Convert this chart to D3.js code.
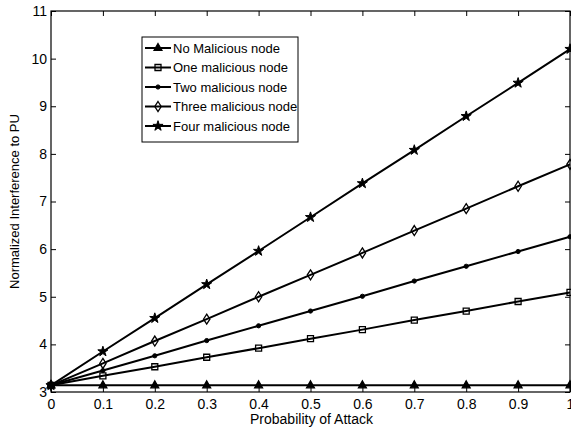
<!DOCTYPE html>
<html><head><meta charset="utf-8">
<script src="https://cdn.jsdelivr.net/npm/d3@7"></script>
<style>body{margin:0;background:#fff}svg{display:block}text{font-family:"Liberation Sans",Arial,sans-serif;fill:#000}</style>
</head><body><svg id="c" width="571" height="429"></svg>
<script>
const xValues = [0,0.1,0.2,0.3,0.4,0.5,0.6,0.7,0.8,0.9,1];
const noMalicious = [3.14,3.14,3.14,3.14,3.14,3.14,3.14,3.14,3.14,3.14,3.14];
const oneMalicious = [3.14,3.34,3.53,3.73,3.92,4.12,4.31,4.51,4.70,4.90,5.09];
const twoMalicious = [3.14,3.45,3.76,4.08,4.39,4.70,5.01,5.33,5.64,5.95,6.26];
const threeMalicious = [3.14,3.60,4.07,4.53,5.00,5.46,5.92,6.39,6.85,7.32,7.78];
const fourMalicious = [3.14,3.85,4.55,5.26,5.96,6.67,7.38,8.08,8.79,9.49,10.20];
const seriesNames = ["No Malicious node","One malicious node","Two malicious node","Three malicious node","Four malicious node"];
const seriesMarkers = ["triangle","square","circle","diamond","star"];
const xTicks = [0,0.1,0.2,0.3,0.4,0.5,0.6,0.7,0.8,0.9,1];
const yTicks = [3,4,5,6,7,8,9,10,11];
const xLabel = "Probability of Attack";
const yLabel = "Normalized Interference to PU";

const series = [noMalicious,oneMalicious,twoMalicious,threeMalicious,fourMalicious].map((v,i)=>({name:seriesNames[i],marker:seriesMarkers[i],values:v}));

const svg = d3.select("#c");
const L=51, R=570, T=11, B=392;
const x = d3.scaleLinear().domain([0,1]).range([L,R]);
const y = d3.scaleLinear().domain([3,11]).range([B,T]);

function markerPath(type){
  switch(type){
    case "triangle": return "M0,-4.5L4,2.5L-4,2.5Z";
    case "square": return "M-3,-3H3V3H-3Z";
    case "circle": return d3.symbol(d3.symbolCircle, 14)();
    case "diamond": return "M0,-5L3.2,0L0,5L-3.2,0Z";
    case "star": return d3.symbol(d3.symbolStar, 32)();
  }
}
function markerStyle(sel,type){
  if(type==="circle"||type==="star") sel.attr("fill","#000").attr("stroke","#000").attr("stroke-width",1);
  else if(type==="triangle") sel.attr("fill","#000").attr("stroke","#000").attr("stroke-width",1.2);
  else sel.attr("fill","none").attr("stroke","#000").attr("stroke-width",1.3);
}

svg.append("rect").attr("x",L).attr("y",T).attr("width",R-L).attr("height",B-T).attr("fill","#fff");

const gx = svg.append("g").attr("transform",`translate(0,${B})`).call(d3.axisBottom(x).tickValues(xTicks).tickFormat(d3.format("")).tickSizeInner(-5).tickSizeOuter(0));
const gxt = svg.append("g").attr("transform",`translate(0,${T})`).call(d3.axisTop(x).tickValues(xTicks).tickFormat("").tickSizeInner(-5).tickSizeOuter(0));
const gy = svg.append("g").attr("transform",`translate(${L},0)`).call(d3.axisLeft(y).tickValues(yTicks).tickFormat(d3.format("d")).tickSizeInner(-5).tickSizeOuter(0));
const gyr = svg.append("g").attr("transform",`translate(${R},0)`).call(d3.axisRight(y).tickValues(yTicks).tickFormat("").tickSizeInner(-5).tickSizeOuter(0));
[gx,gxt,gy,gyr].forEach(g=>{g.select(".domain").remove();g.selectAll(".tick line").attr("stroke","#000");});
gx.selectAll("text").attr("font-size",14).attr("dy","0.71em").attr("y",7).attr("font-family","Liberation Sans, Arial, sans-serif");
gy.selectAll("text").attr("font-size",14).attr("x",-4).attr("font-family","Liberation Sans, Arial, sans-serif");
svg.append("rect").attr("x",L).attr("y",T).attr("width",R-L).attr("height",B-T).attr("fill","none").attr("stroke","#000").attr("stroke-width",1.2);

const line = d3.line().x((d,i)=>x(xValues[i])).y(d=>y(d));
const gs = svg.append("g");
series.forEach(s=>{
  gs.append("path").attr("d",line(s.values)).attr("fill","none").attr("stroke","#000").attr("stroke-width",2);
  gs.selectAll(null).data(s.values).enter().append("path")
    .attr("transform",(d,i)=>`translate(${x(xValues[i])},${y(d)})`)
    .attr("d",markerPath(s.marker)).call(markerStyle,s.marker);
});

svg.append("text").attr("x",(L+R)/2+1).attr("y",424).attr("text-anchor","middle").attr("font-size",14).text(xLabel);
svg.append("text").attr("transform",`translate(19,${(T+B)/2}) rotate(-90)`).attr("text-anchor","middle").attr("font-size",13).text(yLabel);

const lg = svg.append("g").attr("transform","translate(142,37)");
lg.append("rect").attr("width",156).attr("height",105).attr("fill","#fff").attr("stroke","#000").attr("stroke-width",1);
series.forEach((s,i)=>{
  const ly = 11+i*19.5;
  lg.append("line").attr("x1",3).attr("x2",29).attr("y1",ly).attr("y2",ly).attr("stroke","#000").attr("stroke-width",2);
  lg.append("path").attr("transform",`translate(16,${ly})`).attr("d",markerPath(s.marker)).call(markerStyle,s.marker);
  lg.append("text").attr("x",31).attr("y",ly).attr("dy","0.35em").attr("font-size",13).text(s.name);
});
</script></body></html>
